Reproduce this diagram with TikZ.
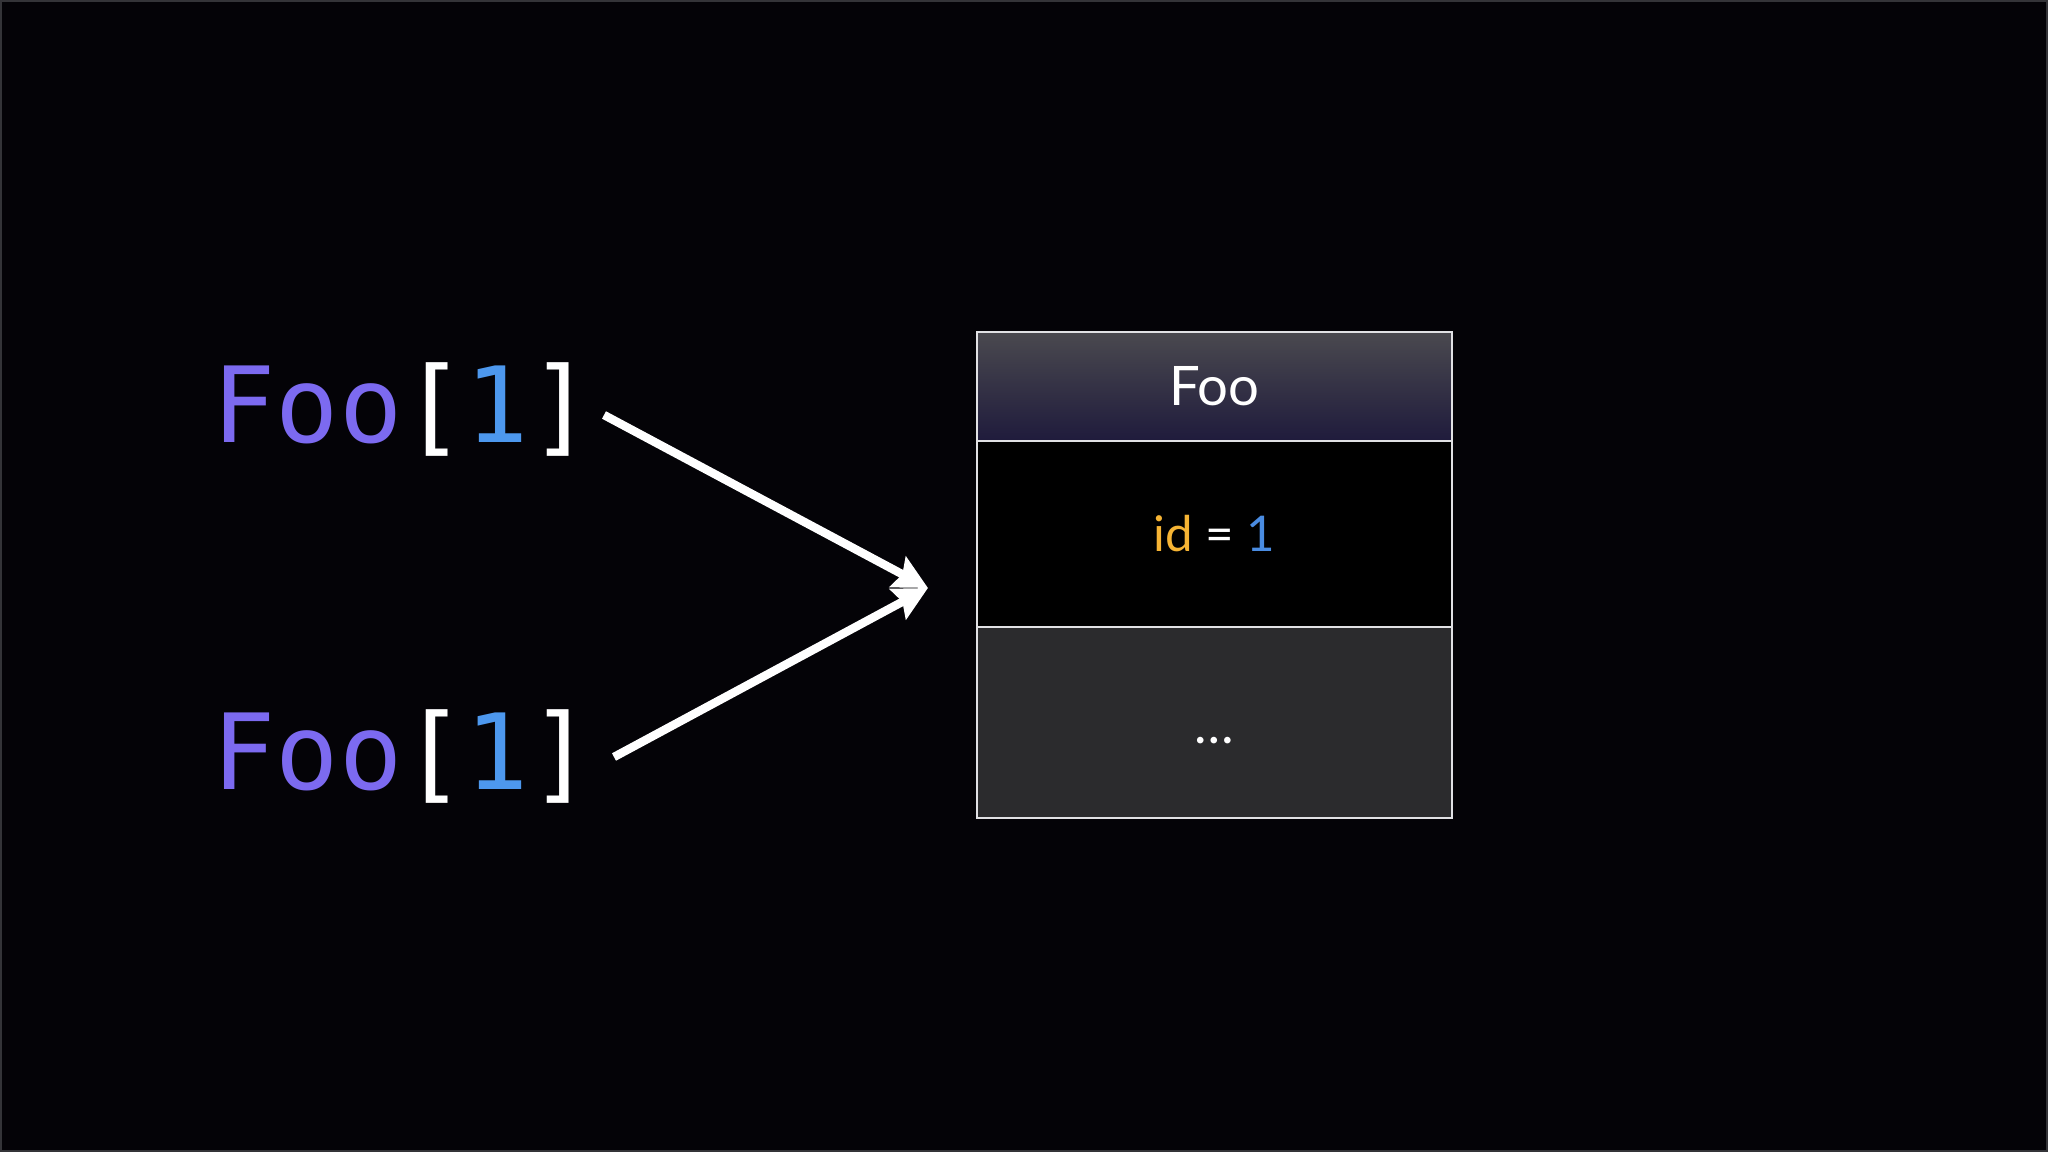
\documentclass[tikz,border=0pt]{standalone}
\usepackage{fontspec}
\setmainfont{Lato}
\setmonofont{DejaVu Sans Mono}
\usepackage{tikz}
\usetikzlibrary{positioning,arrows.meta}
\definecolor{bg}{RGB}{4,3,7}
\definecolor{frameline}{RGB}{52,52,56}
\definecolor{typename}{RGB}{124,106,240}
\definecolor{index}{RGB}{77,152,238}
\definecolor{field}{RGB}{246,180,52}
\definecolor{value}{RGB}{74,140,226}
\definecolor{hdrtop}{RGB}{74,73,79}
\definecolor{hdrmid}{RGB}{46,42,80}
\definecolor{hdrbot}{RGB}{31,27,60}
\definecolor{restfill}{RGB}{43,43,45}
\definecolor{border}{RGB}{225,225,228}
\tikzset{
  >=Stealth,
}

\begin{document}
\begin{tikzpicture}[
  ref/.style={anchor=base west, inner sep=0pt, font=\ttfamily\fontsize{29.9}{36}\selectfont},
  row/.style={draw=border, line width=0.6pt, minimum width=4.75cm, outer sep=0pt, inner sep=0pt, text=white},
  arr/.style={-{Stealth[length=0.34cm, width=0.34cm, inset=0.05cm]}, line width=2.4pt, white}
]
  % slide background
  \fill[bg] (0,0) rectangle (20.48,11.52);
  \draw[frameline, line width=0.5pt] (0.01,0.01) rectangle (20.47,11.51);

  % the two references
  \node[ref] (foo1) at (2.12,7.09) {\textcolor{typename}{Foo}\textcolor{white}{[}\textcolor{index}{1}\textcolor{white}{]}};
  \node[ref] (foo2) at (2.12,3.62) {\textcolor{typename}{Foo}\textcolor{white}{[}\textcolor{index}{1}\textcolor{white}{]}};

  % the object
  \node[row, minimum height=1.09cm, top color=hdrtop, middle color=hdrmid, bottom color=hdrbot,
        font=\fontsize{15.5}{18}\selectfont] (hdr) at (12.145,7.655) {Foo};
  \node[row, minimum height=1.86cm, fill=black, below=0cm of hdr,
        font=\fontsize{14}{17}\selectfont] (idrow) {\textcolor{field}{id} = \textcolor{value}{1}};
  \node[row, minimum height=1.91cm, fill=restfill, below=0cm of idrow] (rest) {};
  \node[text=white, font=\fontsize{15}{18}\selectfont, inner sep=0pt, anchor=base] (dots) at ([yshift=-0.21cm]rest.center) {…};

  \coordinate (tip) at (9.28,5.64);
  \draw[arr] ([xshift=0.11cm, yshift=-0.05cm]foo1.east) -- (tip);
  \draw[arr] ([xshift=0.21cm]foo2.east) -- (tip);
\end{tikzpicture}
\end{document}
